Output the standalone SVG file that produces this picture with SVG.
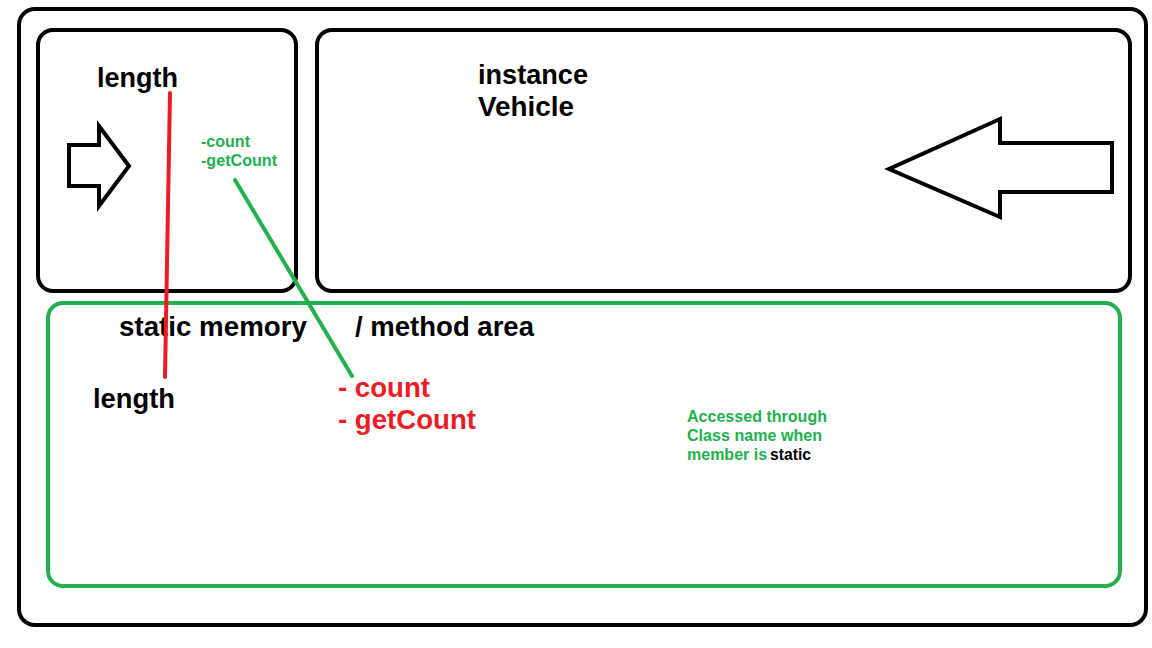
<svg xmlns="http://www.w3.org/2000/svg" width="1152" height="648" viewBox="0 0 1152 648">
<style>
.box{fill:none;stroke:#000;stroke-width:4}
.gbox{fill:none;stroke:#22b14c;stroke-width:4}
.arr{fill:#fff;stroke:#000;stroke-width:4;stroke-linejoin:miter}
.t{font-family:"Liberation Sans",Arial,sans-serif;font-weight:bold}
.big{font-size:27px;fill:#000}
.red{font-size:27px;fill:#ed1c24}
.gs{font-size:16px;fill:#22b14c}
.gm{font-size:16px;fill:#22b14c}
</style>
<rect width="1152" height="648" fill="#fff"/>
<g id="outer"><rect class="box" x="19" y="9" width="1127" height="616" rx="16"/></g>
<g id="leftbox">
<rect class="box" x="38" y="30" width="258" height="261" rx="15"/>
<polygon class="arr" points="69,145 99,145 99,126 129,166 99,206 99,186 69,186"/>
<text class="t big" x="97" y="87" textLength="81" lengthAdjust="spacingAndGlyphs">length</text>
<text class="t gs" x="201" y="147" textLength="49" lengthAdjust="spacingAndGlyphs">-count</text>
<text class="t gs" x="201" y="166" textLength="76" lengthAdjust="spacingAndGlyphs">-getCount</text>
</g>
<g id="instancebox">
<rect class="box" x="317" y="30" width="813" height="261" rx="15"/>
<polygon class="arr" points="1112,143 1000,143 1000,119 889,169 1000,217 1000,192 1112,192"/>
<text class="t big" x="478" y="84" textLength="110" lengthAdjust="spacingAndGlyphs">instance</text>
<text class="t big" x="478" y="116" textLength="96" lengthAdjust="spacingAndGlyphs">Vehicle</text>
</g>
<g id="staticbox">
<rect class="gbox" x="48" y="303" width="1072" height="283" rx="15"/>
<text class="t big" x="119" y="336" textLength="188" lengthAdjust="spacingAndGlyphs">static memory</text>
<text class="t big" x="355" y="336" textLength="179" lengthAdjust="spacingAndGlyphs">/ method area</text>
<text class="t big" x="93" y="408" textLength="82" lengthAdjust="spacingAndGlyphs">length</text>
<text class="t red" x="338" y="397" textLength="92" lengthAdjust="spacingAndGlyphs">- count</text>
<text class="t red" x="338" y="429" textLength="138" lengthAdjust="spacingAndGlyphs">- getCount</text>
<text class="t gm" x="687" y="422" textLength="140" lengthAdjust="spacingAndGlyphs">Accessed through</text>
<text class="t gm" x="687" y="441" textLength="135" lengthAdjust="spacingAndGlyphs">Class name when</text>
<text class="t gm" x="687" y="460">member is </text>
<text class="t gm" x="770" y="460" fill="#000" style="fill:#000" textLength="41" lengthAdjust="spacingAndGlyphs">static</text>
</g>
<g id="connectors">
<line x1="170" y1="93" x2="165" y2="377" stroke="#ed1c24" stroke-width="4" stroke-linecap="round"/>
<line x1="235" y1="180" x2="352" y2="376" stroke="#22b14c" stroke-width="4" stroke-linecap="round"/>
</g>
</svg>
